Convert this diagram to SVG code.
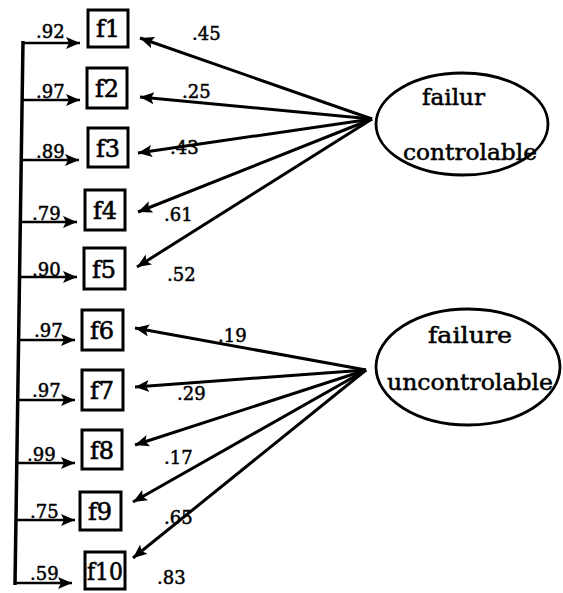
<svg xmlns="http://www.w3.org/2000/svg" width="563" height="593" viewBox="0 0 563 593">
<style>
.bx{fill:#fff;stroke:#000;stroke-width:3}
.bl{font-family:"DejaVu Serif","Liberation Serif",serif;font-size:24px;text-anchor:middle;fill:#000;stroke:#000;stroke-width:0.6}
.n{font-family:"DejaVu Serif","Liberation Serif",serif;font-size:18px;fill:#000;stroke:#000;stroke-width:0.5}
.et{font-family:"DejaVu Serif","Liberation Serif",serif;font-size:22px;fill:#000;stroke:#000;stroke-width:0.5}
.el{fill:#fff;stroke:#000;stroke-width:2.8}
.h{stroke:#000;stroke-width:2.5;fill:none}
.d{stroke:#000;stroke-width:3;fill:none}
</style>
<defs>
<marker id="ah" markerUnits="userSpaceOnUse" markerWidth="16" markerHeight="14" refX="14" refY="6" orient="auto">
<path d="M0,0 L14,6 L0,12 L3,6 z" fill="#000"/>
</marker>
</defs>
<g id="connectors">
<line class="h" x1="23" y1="41" x2="15" y2="585" style="stroke-width:3.5"/>
<line class="h" x1="23" y1="43" x2="80" y2="43" marker-end="url(#ah)"/>
<line class="h" x1="22" y1="100" x2="80" y2="100" marker-end="url(#ah)"/>
<line class="h" x1="21" y1="160" x2="79" y2="160" marker-end="url(#ah)"/>
<line class="h" x1="20" y1="222" x2="77" y2="222" marker-end="url(#ah)"/>
<line class="h" x1="19" y1="277" x2="77" y2="277" marker-end="url(#ah)"/>
<line class="h" x1="18" y1="340" x2="75" y2="340" marker-end="url(#ah)"/>
<line class="h" x1="18" y1="400" x2="75" y2="400" marker-end="url(#ah)"/>
<line class="h" x1="17" y1="463" x2="75" y2="463" marker-end="url(#ah)"/>
<line class="h" x1="16" y1="520" x2="75" y2="520" marker-end="url(#ah)"/>
<line class="h" x1="15" y1="583" x2="72" y2="583" marker-end="url(#ah)"/>
<line class="d" x1="372" y1="119" x2="140" y2="38" marker-end="url(#ah)"/>
<line class="d" x1="372" y1="119" x2="140" y2="97" marker-end="url(#ah)"/>
<line class="d" x1="372" y1="119" x2="138" y2="153" marker-end="url(#ah)"/>
<line class="d" x1="372" y1="119" x2="138" y2="212" marker-end="url(#ah)"/>
<line class="d" x1="372" y1="119" x2="137" y2="267" marker-end="url(#ah)"/>
<line class="d" x1="366" y1="370" x2="135" y2="328" marker-end="url(#ah)"/>
<line class="d" x1="366" y1="370" x2="135" y2="387" marker-end="url(#ah)"/>
<line class="d" x1="366" y1="370" x2="135" y2="445" marker-end="url(#ah)"/>
<line class="d" x1="366" y1="370" x2="133" y2="502" marker-end="url(#ah)"/>
<line class="d" x1="366" y1="370" x2="133" y2="558" marker-end="url(#ah)"/>
<text class="n" x="36" y="38">.92</text>
<text class="n" x="36" y="98">.97</text>
<text class="n" x="36" y="158">.89</text>
<text class="n" x="32" y="220">.79</text>
<text class="n" x="32" y="276">.90</text>
<text class="n" x="34" y="337">.97</text>
<text class="n" x="32" y="397">.97</text>
<text class="n" x="27" y="461">.99</text>
<text class="n" x="30" y="518">.75</text>
<text class="n" x="30" y="580">.59</text>
<text class="n" x="192" y="40">.45</text>
<text class="n" x="182" y="98">.25</text>
<text class="n" x="170" y="154">.43</text>
<text class="n" x="164" y="221">.61</text>
<text class="n" x="167" y="281">.52</text>
<text class="n" x="218" y="342">.19</text>
<text class="n" x="177" y="400">.29</text>
<text class="n" x="164" y="464">.17</text>
<text class="n" x="164" y="524">.65</text>
<text class="n" x="157" y="584">.83</text>
</g>
<g id="f1"><rect class="bx" x="88" y="10" width="40" height="37"/><text class="bl" x="108" y="37">f1</text></g>
<g id="f2"><rect class="bx" x="87" y="68" width="40" height="40"/><text class="bl" x="107" y="97">f2</text></g>
<g id="f3"><rect class="bx" x="88" y="128" width="40" height="39"/><text class="bl" x="108" y="157">f3</text></g>
<g id="f4"><rect class="bx" x="85" y="190" width="40" height="40"/><text class="bl" x="105" y="219">f4</text></g>
<g id="f5"><rect class="bx" x="84" y="248" width="41" height="41"/><text class="bl" x="104" y="278">f5</text></g>
<g id="f6"><rect class="bx" x="82" y="310" width="41" height="40"/><text class="bl" x="102" y="339">f6</text></g>
<g id="f7"><rect class="bx" x="82" y="370" width="41" height="40"/><text class="bl" x="102" y="399">f7</text></g>
<g id="f8"><rect class="bx" x="82" y="430" width="40" height="39"/><text class="bl" x="102" y="459">f8</text></g>
<g id="f9"><rect class="bx" x="80" y="492" width="41" height="38"/><text class="bl" x="100" y="520">f9</text></g>
<g id="f10"><rect class="bx" x="85" y="552" width="40" height="37"/><text class="bl" x="105" y="580" textLength="36" lengthAdjust="spacingAndGlyphs">f10</text></g>
<g id="failur_controlable">
<ellipse class="el" cx="462" cy="124" rx="86" ry="51"/>
<text class="et" x="422" y="105" textLength="63" lengthAdjust="spacingAndGlyphs">failur</text>
<text class="et" x="403" y="160" textLength="134" lengthAdjust="spacingAndGlyphs">controlable</text>
</g>
<g id="failure_uncontrolable">
<ellipse class="el" cx="468" cy="367" rx="92" ry="58"/>
<text class="et" x="428" y="343" textLength="84" lengthAdjust="spacingAndGlyphs">failure</text>
<text class="et" x="387" y="390" textLength="166" lengthAdjust="spacingAndGlyphs">uncontrolable</text>
</g>
</svg>
